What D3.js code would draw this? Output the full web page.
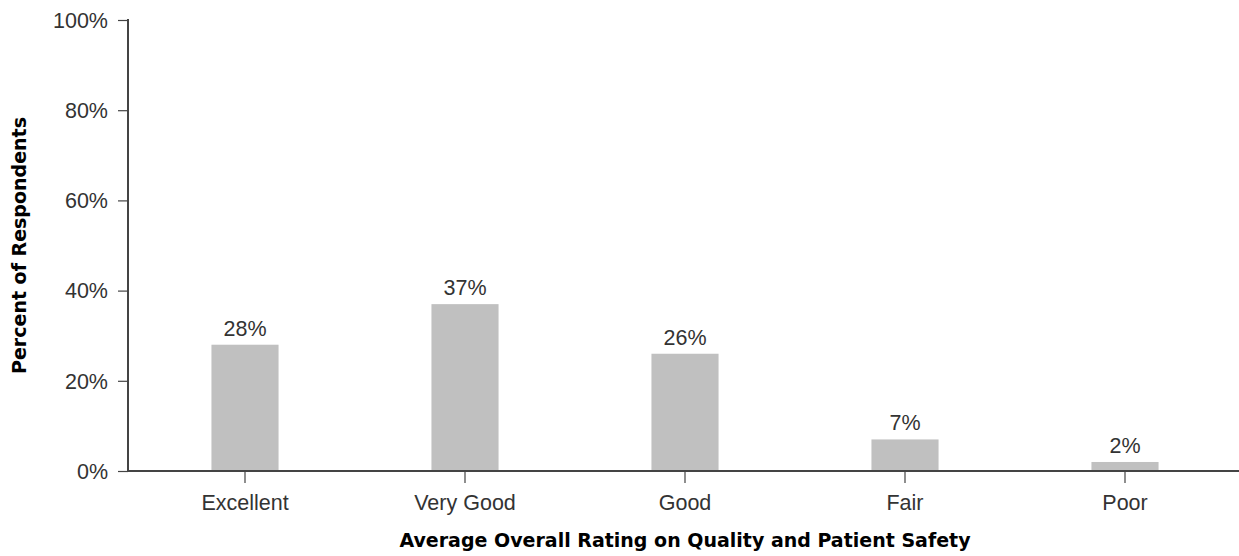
<!DOCTYPE html>
<html>
<head>
<meta charset="utf-8">
<script src="https://cdn.jsdelivr.net/npm/d3@7"></script>
<style>
  html, body { margin: 0; padding: 0; background: #fff; }
  svg { display: block; }
</style>
</head>
<body>
<svg id="chart" width="1239" height="556"></svg>
<script>
// Ratings and share of respondents (percent)
const categories = ["Excellent", "Very Good", "Good", "Fair", "Poor"];
const percents = [28, 37, 26, 7, 2];
const yTicks = [0, 20, 40, 60, 80, 100];

const svg = d3.select("#chart");
const axisColor = "#444";
const textColor = "#333";
const labelFont = "'Liberation Sans', Arial, sans-serif";
const titleFont = "'DejaVu Sans', Verdana, sans-serif";
const labelSize = 21.5;

const plotLeft = 128, plotRight = 1239, plotTop = 20, plotBottom = 471;

const x = d3.scaleBand()
  .domain(categories)
  .range([135, 1235])
  .paddingInner(0.695)
  .paddingOuter(0.3475);

const y = d3.scaleLinear()
  .domain([0, 100])
  .range([plotBottom, plotTop]);

// Bars
svg.append("g")
  .selectAll("rect")
  .data(categories)
  .join("rect")
  .attr("x", d => x(d))
  .attr("width", x.bandwidth())
  .attr("y", (d, i) => y(percents[i]))
  .attr("height", (d, i) => y(0) - y(percents[i]))
  .attr("fill", "#c0c0c0");

// Value labels
svg.append("g")
  .selectAll("text")
  .data(categories)
  .join("text")
  .attr("x", d => x(d) + x.bandwidth() / 2)
  .attr("y", (d, i) => y(percents[i]) - 9)
  .attr("text-anchor", "middle")
  .style("font-family", labelFont)
  .style("font-size", labelSize + "px")
  .attr("fill", textColor)
  .text((d, i) => percents[i] + "%");

// Y axis
const yAxis = svg.append("g")
  .attr("transform", `translate(${plotLeft},0)`)
  .call(d3.axisLeft(y).tickValues(yTicks).tickFormat(d => d + "%").tickSize(10).tickPadding(10));
yAxis.select(".domain").remove();
yAxis.selectAll("line").attr("stroke", axisColor).attr("stroke-width", 1.2);
yAxis.selectAll("text")
  .style("font-family", labelFont)
  .style("font-size", labelSize + "px")
  .attr("fill", textColor)
  .attr("dy", "0.34em");
svg.append("line")
  .attr("x1", plotLeft).attr("x2", plotLeft)
  .attr("y1", plotTop - 1).attr("y2", plotBottom)
  .attr("stroke", axisColor).attr("stroke-width", 2);

// X axis
const xAxis = svg.append("g")
  .attr("transform", `translate(0,${plotBottom})`)
  .call(d3.axisBottom(x).tickSize(12));
xAxis.select(".domain").remove();
xAxis.selectAll("line").attr("stroke", axisColor).attr("stroke-width", 1.2);
xAxis.selectAll("text")
  .style("font-family", labelFont)
  .style("font-size", labelSize + "px")
  .attr("fill", textColor)
  .attr("y", 39)
  .attr("dy", 0);
svg.append("line")
  .attr("x1", plotLeft - 1).attr("x2", plotRight)
  .attr("y1", plotBottom).attr("y2", plotBottom)
  .attr("stroke", axisColor).attr("stroke-width", 2);

// Axis titles
svg.append("text")
  .attr("x", 685)
  .attr("y", 547)
  .attr("text-anchor", "middle")
  .style("font-family", titleFont)
  .style("font-size", "19px")
  .style("font-weight", "bold")
  .attr("fill", "#000")
  .text("Average Overall Rating on Quality and Patient Safety");

svg.append("text")
  .attr("transform", `translate(26,${(plotTop + plotBottom) / 2}) rotate(-90)`)
  .attr("text-anchor", "middle")
  .style("font-family", titleFont)
  .style("font-size", "19px")
  .style("font-weight", "bold")
  .attr("fill", "#000")
  .text("Percent of Respondents");
</script>
</body>
</html>
